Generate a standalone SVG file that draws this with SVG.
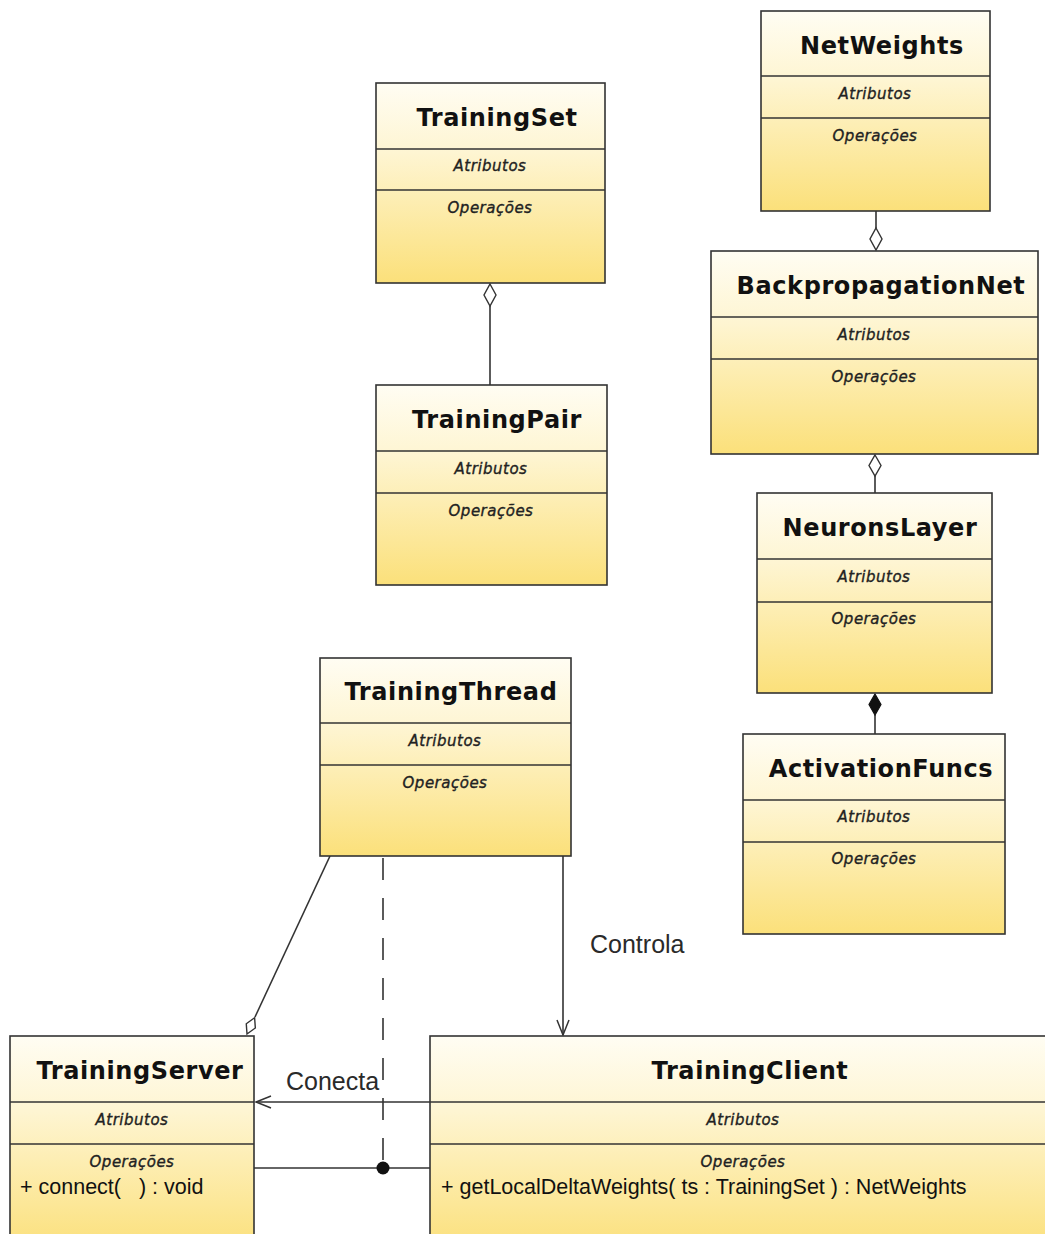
<svg xmlns="http://www.w3.org/2000/svg" width="1045" height="1234" viewBox="0 0 1045 1234">
  <defs>
    <linearGradient id="classFill" x1="0" y1="0" x2="0" y2="1">
      <stop offset="0" stop-color="#FFFDF3"/>
      <stop offset="0.35" stop-color="#FEF5D2"/>
      <stop offset="1" stop-color="#FBE07A"/>
    </linearGradient>
    <marker id="openArrow" markerWidth="20" markerHeight="16" refX="16" refY="7" orient="auto" markerUnits="userSpaceOnUse">
      <path d="M1,1 L16,7 L1,13" fill="none" stroke="#333" stroke-width="1.5"/>
    </marker>
  </defs>
  <style>
    .box { fill: url(#classFill); stroke: #333; stroke-width: 1.6; }
    .div { stroke: #333; stroke-width: 1.4; }
    .title { font-family: "DejaVu Sans", Verdana, sans-serif; font-weight: bold; font-size: 24px; letter-spacing: 0.6px; fill: #111; text-anchor: middle; }
    .comp { font-family: "DejaVu Sans", Verdana, sans-serif; font-style: italic; font-size: 15px; letter-spacing: 0.5px; fill: #222; stroke: #222; stroke-width: 0.35; text-anchor: middle; }
    .op { font-family: "Liberation Sans", Arial, sans-serif; font-size: 21.5px; fill: #111; white-space: pre; }
    .lbl { font-family: "Liberation Sans", Arial, sans-serif; font-size: 25px; fill: #2a2a2a; }
    .line { stroke: #333; stroke-width: 1.6; fill: none; }
    .hollow { fill: #fff; stroke: #333; stroke-width: 1.4; }
    .solid { fill: #111; stroke: #111; stroke-width: 1.2; }
  </style>

  <rect width="1045" height="1234" fill="#fff"/>

  <!-- connectors -->
  <g id="connectors">
    <!-- TrainingSet <>- TrainingPair -->
    <line class="line" x1="490" y1="306" x2="490" y2="385"/>
    <path class="hollow" d="M490,284 L496,295 L490,306 L484,295 Z"/>
    <!-- NetWeights -<> BackpropagationNet -->
    <line class="line" x1="876" y1="211" x2="876" y2="228"/>
    <path class="hollow" d="M876,228 L882,239 L876,250 L870,239 Z"/>
    <!-- BackpropagationNet <>- NeuronsLayer -->
    <line class="line" x1="875" y1="476" x2="875" y2="493"/>
    <path class="hollow" d="M875,455 L881,465.5 L875,476 L869,465.5 Z"/>
    <!-- NeuronsLayer <#>- ActivationFuncs -->
    <line class="line" x1="875" y1="715" x2="875" y2="734"/>
    <path class="solid" d="M875,694 L881,704.5 L875,715 L869,704.5 Z"/>
    <!-- TrainingThread -<> TrainingServer -->
    <line class="line" x1="330" y1="856" x2="255" y2="1017"/>
    <g transform="translate(247,1034) rotate(-65)">
      <path class="hollow" d="M0,0 L9,-5 L18,0 L9,5 Z"/>
    </g>
    <!-- Controla -->
    <line class="line" x1="563" y1="856" x2="563" y2="1035" marker-end="url(#openArrow)"/>
    <text class="lbl" x="590" y="953">Controla</text>
    <!-- Conecta -->
    <line class="line" x1="430" y1="1102" x2="256" y2="1102" marker-end="url(#openArrow)"/>
    <text class="lbl" x="286" y="1090">Conecta</text>
    <!-- association class link -->
    <line class="line" x1="254" y1="1168" x2="430" y2="1168"/>
    <line class="line" x1="383" y1="858" x2="383" y2="1168" stroke-dasharray="22 18"/>
    <circle cx="383" cy="1168" r="6.5" fill="#111"/>
  </g>

  <g id="TrainingSet">
    <rect class="box" x="376" y="83" width="229" height="200"/>
    <line class="div" x1="376" y1="149" x2="605" y2="149"/>
    <line class="div" x1="376" y1="190" x2="605" y2="190"/>
    <text class="title" x="497" y="126">TrainingSet</text>
    <text class="comp" x="490" y="171">Atributos</text>
    <text class="comp" x="490" y="213">Operações</text>
  </g>

  <g id="NetWeights">
    <rect class="box" x="761" y="11" width="229" height="200"/>
    <line class="div" x1="761" y1="76" x2="990" y2="76"/>
    <line class="div" x1="761" y1="118" x2="990" y2="118"/>
    <text class="title" x="882" y="54">NetWeights</text>
    <text class="comp" x="875" y="99">Atributos</text>
    <text class="comp" x="875" y="141">Operações</text>
  </g>

  <g id="BackpropagationNet">
    <rect class="box" x="711" y="251" width="327" height="203"/>
    <line class="div" x1="711" y1="317" x2="1038" y2="317"/>
    <line class="div" x1="711" y1="359" x2="1038" y2="359"/>
    <text class="title" x="881" y="294">BackpropagationNet</text>
    <text class="comp" x="874" y="340">Atributos</text>
    <text class="comp" x="874" y="382">Operações</text>
  </g>

  <g id="TrainingPair">
    <rect class="box" x="376" y="385" width="231" height="200"/>
    <line class="div" x1="376" y1="451" x2="607" y2="451"/>
    <line class="div" x1="376" y1="493" x2="607" y2="493"/>
    <text class="title" x="497" y="428">TrainingPair</text>
    <text class="comp" x="491" y="474">Atributos</text>
    <text class="comp" x="491" y="516">Operações</text>
  </g>

  <g id="NeuronsLayer">
    <rect class="box" x="757" y="493" width="235" height="200"/>
    <line class="div" x1="757" y1="559" x2="992" y2="559"/>
    <line class="div" x1="757" y1="602" x2="992" y2="602"/>
    <text class="title" x="880" y="536">NeuronsLayer</text>
    <text class="comp" x="874" y="582">Atributos</text>
    <text class="comp" x="874" y="624">Operações</text>
  </g>

  <g id="ActivationFuncs">
    <rect class="box" x="743" y="734" width="262" height="200"/>
    <line class="div" x1="743" y1="800" x2="1005" y2="800"/>
    <line class="div" x1="743" y1="842" x2="1005" y2="842"/>
    <text class="title" x="881" y="777">ActivationFuncs</text>
    <text class="comp" x="874" y="822">Atributos</text>
    <text class="comp" x="874" y="864">Operações</text>
  </g>

  <g id="TrainingThread">
    <rect class="box" x="320" y="658" width="251" height="198"/>
    <line class="div" x1="320" y1="723" x2="571" y2="723"/>
    <line class="div" x1="320" y1="765" x2="571" y2="765"/>
    <text class="title" x="451" y="700">TrainingThread</text>
    <text class="comp" x="445" y="746">Atributos</text>
    <text class="comp" x="445" y="788">Operações</text>
  </g>

  <g id="TrainingServer">
    <rect class="box" x="10" y="1036" width="244" height="215"/>
    <line class="div" x1="10" y1="1102" x2="254" y2="1102"/>
    <line class="div" x1="10" y1="1144" x2="254" y2="1144"/>
    <text class="title" x="140" y="1079">TrainingServer</text>
    <text class="comp" x="132" y="1125">Atributos</text>
    <text class="comp" x="132" y="1167">Operações</text>
    <text class="op" x="20" y="1194" xml:space="preserve">+ connect(   ) : void</text>
  </g>

  <g id="TrainingClient">
    <rect class="box" x="430" y="1036" width="626" height="215"/>
    <line class="div" x1="430" y1="1102" x2="1056" y2="1102"/>
    <line class="div" x1="430" y1="1144" x2="1056" y2="1144"/>
    <text class="title" x="750" y="1079">TrainingClient</text>
    <text class="comp" x="743" y="1125">Atributos</text>
    <text class="comp" x="743" y="1167">Operações</text>
    <text class="op" x="441" y="1194">+ getLocalDeltaWeights( ts : TrainingSet ) : NetWeights</text>
  </g>
</svg>
